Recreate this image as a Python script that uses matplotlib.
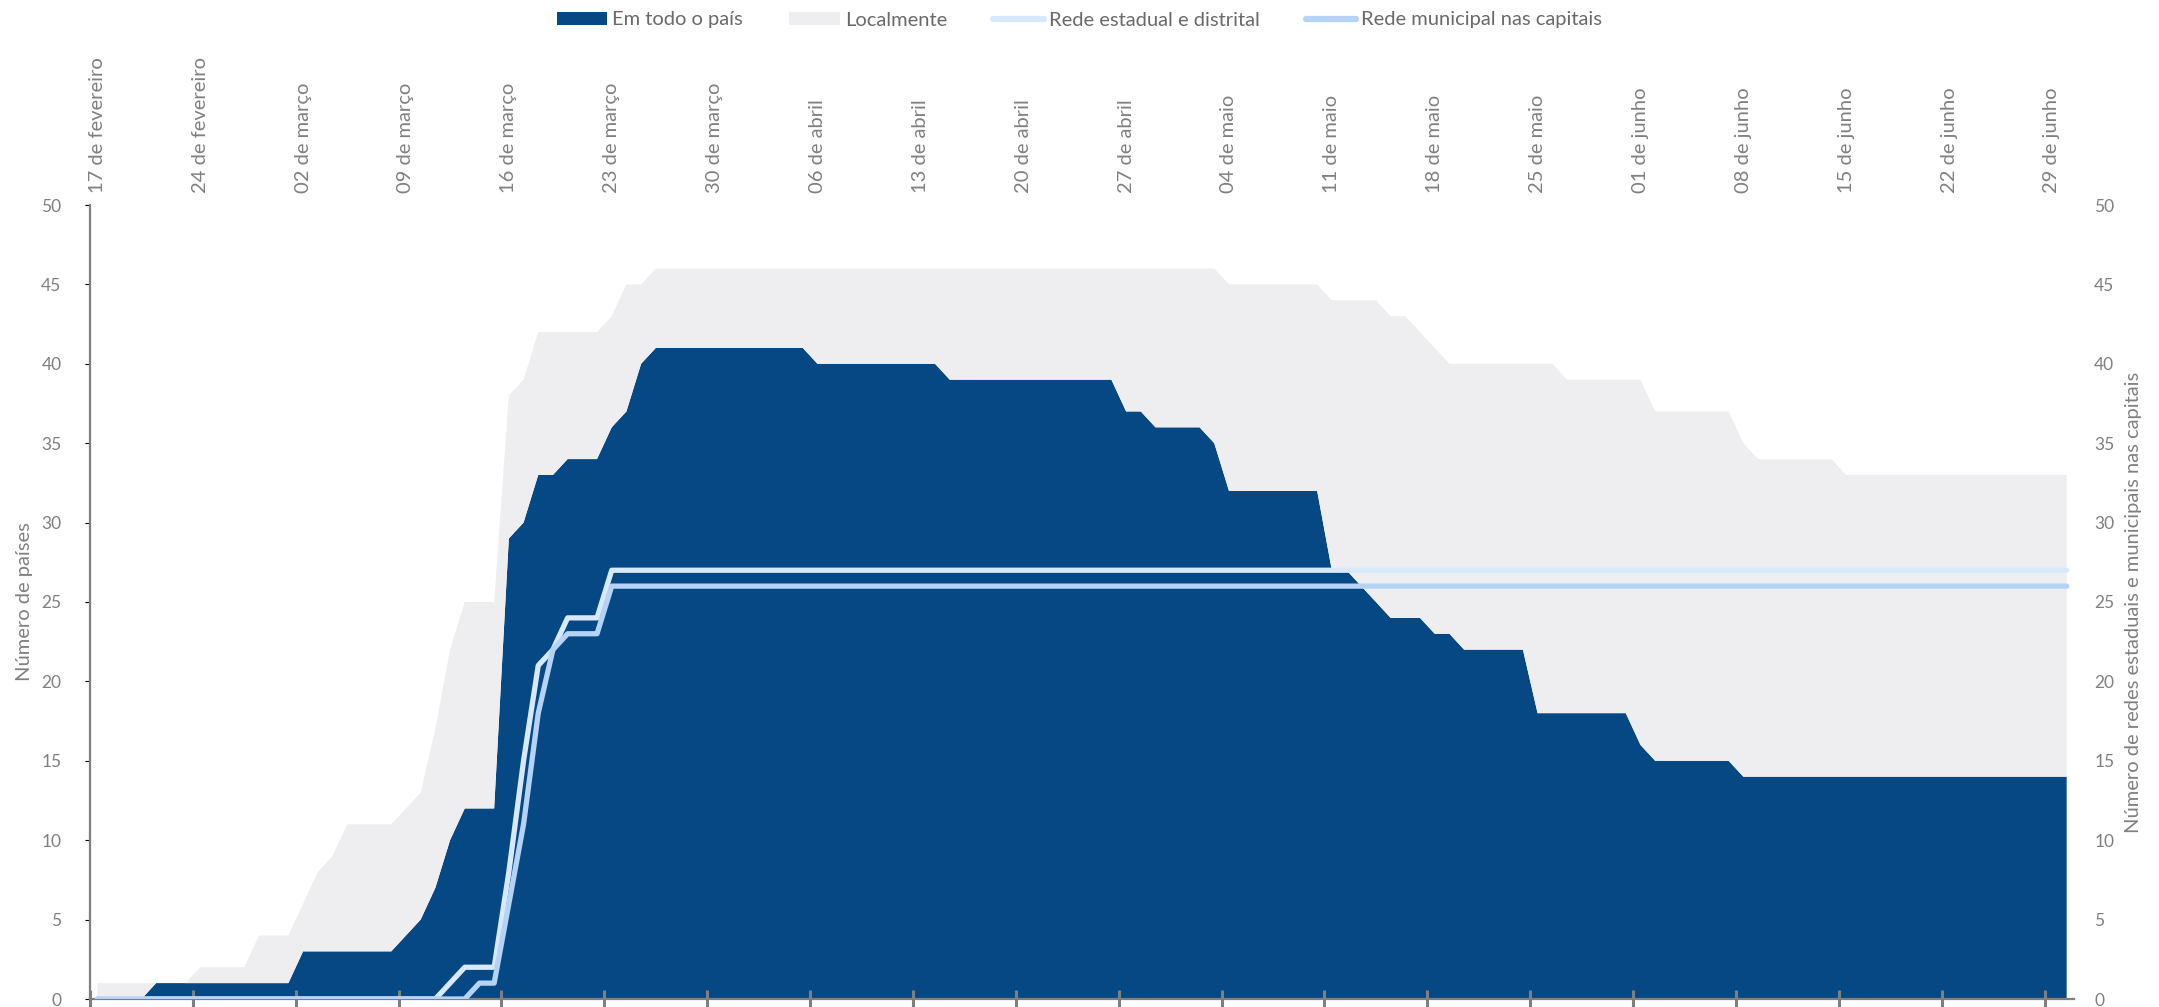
import numpy as np
import pandas as pd
import matplotlib
matplotlib.use('Agg')
import matplotlib.pyplot as plt
from matplotlib.patches import Patch
from matplotlib.lines import Line2D

plt.rcParams['font.family'] = ['Lato', 'DejaVu Sans']

# one value per day, 17 Feb - 30 Jun 2020
days = pd.date_range('2020-02-17', '2020-06-30', freq='D')

# Em todo o país (número de países)
em_todo_o_pais = (
    [0, 0, 0, 0, 1, 1, 1, 1, 1, 1, 1, 1, 1]                                   # fev 17-29
    + [1, 3, 3, 3, 3, 3, 3, 3, 4, 5, 7, 10, 12, 12, 12, 29, 30, 33, 33, 34,
       34, 34, 36, 37, 40, 41, 41, 41, 41, 41, 41]                           # março
    + [41, 41, 41, 41, 41, 40, 40, 40, 40, 40, 40, 40, 40, 40, 39, 39, 39, 39,
       39, 39, 39, 39, 39, 39, 39, 39, 37, 37, 36, 36]                       # abril
    + [36, 36, 35, 32, 32, 32, 32, 32, 32, 32, 27, 27, 26, 25, 24, 24, 24, 23,
       23, 22, 22, 22, 22, 22, 18, 18, 18, 18, 18, 18, 18]                   # maio
    + [16, 15, 15, 15, 15, 15, 15, 14, 14, 14, 14, 14, 14, 14, 14, 14, 14, 14,
       14, 14, 14, 14, 14, 14, 14, 14, 14, 14, 14, 14]                       # junho
)

# Localmente
localmente = (
    [1, 1, 1, 1, 0, 0, 0, 1, 1, 1, 1, 3, 3]
    + [3, 3, 5, 6, 8, 8, 8, 8, 8, 8, 10, 12, 13, 13, 13, 9, 9, 9, 9, 8,
       8, 8, 7, 8, 5, 5, 5, 5, 5, 5, 5]
    + [5, 5, 5, 5, 5, 6, 6, 6, 6, 6, 6, 6, 6, 6, 7, 7, 7, 7,
       7, 7, 7, 7, 7, 7, 7, 7, 9, 9, 10, 10]
    + [10, 10, 11, 13, 13, 13, 13, 13, 13, 13, 17, 17, 18, 19, 19, 19, 18, 18,
       17, 18, 18, 18, 18, 18, 22, 22, 21, 21, 21, 21, 21]
    + [23, 22, 22, 22, 22, 22, 22, 21, 20, 20, 20, 20, 20, 20, 19, 19, 19, 19,
       19, 19, 19, 19, 19, 19, 19, 19, 19, 19, 19, 19]
)

# Rede estadual e distrital
rede_estadual = (
    [0, 0, 0, 0, 0, 0, 0, 0, 0, 0, 0, 0, 0]
    + [0, 0, 0, 0, 0, 0, 0, 0, 0, 0, 0, 1, 2, 2, 2, 8, 15, 21, 22, 24,
       24, 24, 27, 27, 27, 27, 27, 27, 27, 27, 27]
    + [27, 27, 27, 27, 27, 27, 27, 27, 27, 27, 27, 27, 27, 27, 27, 27, 27, 27,
       27, 27, 27, 27, 27, 27, 27, 27, 27, 27, 27, 27]
    + [27, 27, 27, 27, 27, 27, 27, 27, 27, 27, 27, 27, 27, 27, 27, 27, 27, 27,
       27, 27, 27, 27, 27, 27, 27, 27, 27, 27, 27, 27, 27]
    + [27, 27, 27, 27, 27, 27, 27, 27, 27, 27, 27, 27, 27, 27, 27, 27, 27, 27,
       27, 27, 27, 27, 27, 27, 27, 27, 27, 27, 27, 27]
)

# Rede municipal nas capitais
rede_municipal = (
    [0, 0, 0, 0, 0, 0, 0, 0, 0, 0, 0, 0, 0]
    + [0, 0, 0, 0, 0, 0, 0, 0, 0, 0, 0, 0, 0, 1, 1, 6, 11, 18, 22, 23,
       23, 23, 26, 26, 26, 26, 26, 26, 26, 26, 26]
    + [26, 26, 26, 26, 26, 26, 26, 26, 26, 26, 26, 26, 26, 26, 26, 26, 26, 26,
       26, 26, 26, 26, 26, 26, 26, 26, 26, 26, 26, 26]
    + [26, 26, 26, 26, 26, 26, 26, 26, 26, 26, 26, 26, 26, 26, 26, 26, 26, 26,
       26, 26, 26, 26, 26, 26, 26, 26, 26, 26, 26, 26, 26]
    + [26, 26, 26, 26, 26, 26, 26, 26, 26, 26, 26, 26, 26, 26, 26, 26, 26, 26,
       26, 26, 26, 26, 26, 26, 26, 26, 26, 26, 26, 26]
)

tick_labels = ['17 de fevereiro', '24 de fevereiro', '02 de março', '09 de março',
               '16 de março', '23 de março', '30 de março', '06 de abril',
               '13 de abril', '20 de abril', '27 de abril', '04 de maio',
               '11 de maio', '18 de maio', '25 de maio', '01 de junho',
               '08 de junho', '15 de junho', '22 de junho', '29 de junho']

BLUE = '#054884'
GRAY = '#eeeef0'
C_EST = '#d7e9fb'
C_MUN = '#b5d2f7'
TXT = '#808080'

W, H = 2159, 1007
fig = plt.figure(figsize=(W / 100, H / 100), dpi=100)
ax = fig.add_axes([90 / W, 8 / H, (2074 - 90) / W, (999 - 205) / H])

ax.stackplot(days, em_todo_o_pais, localmente, colors=[BLUE, GRAY], lw=0)

half = pd.Timedelta(hours=12)
ax.set_xlim(days[0] - half, days[-1] + half)
ax.set_ylim(0, 50)

week_days = days[::7]
ax.set_xticks(week_days)
ax.set_xticklabels(tick_labels)
ax.set_xticks(week_days - half, minor=True)
ax.tick_params(axis='x', which='major', bottom=False, top=False, labelbottom=False,
               labeltop=True, labelrotation=90, labelsize=14.5, labelcolor=TXT, pad=5)
ax.tick_params(axis='x', which='minor', bottom=True, top=False, direction='inout',
               length=13, width=2.2, color='#7f7f7f')

ax.set_yticks(range(0, 51, 5))
ax.tick_params(axis='y', left=False, labelsize=12.5, labelcolor=TXT, pad=17)
ax.set_ylabel('Número de países', color=TXT, fontsize=14.5, labelpad=6)

for s in ['top', 'right']:
    ax.spines[s].set_visible(False)
for s in ['left', 'bottom']:
    ax.spines[s].set_color('#7f7f7f')
    ax.spines[s].set_linewidth(1.6)

# redes on the secondary axis
ax2 = ax.twinx()
ax2.plot(days, rede_estadual, color=C_EST, lw=3.8, solid_capstyle='round')
ax2.plot(days, rede_municipal, color=C_MUN, lw=3.8, solid_capstyle='round')
ax2.set_ylim(0, 50)
ax2.set_yticks(range(0, 51, 5))
ax2.tick_params(axis='y', right=False, labelsize=12.5, labelcolor=TXT, pad=11)
ax2.set_ylabel('Número de redes estaduais e municipais nas capitais', color=TXT,
               fontsize=14.5, labelpad=8)
for s in ax2.spines.values():
    s.set_visible(False)

handles = [Patch(facecolor=BLUE), Patch(facecolor=GRAY),
           Line2D([], [], color=C_EST, lw=4.5, solid_capstyle='round'),
           Line2D([], [], color=C_MUN, lw=4.5, solid_capstyle='round')]
labels = ['Em todo o país', 'Localmente', 'Rede estadual e distrital',
          'Rede municipal nas capitais']
leg = fig.legend(handles, labels, loc='center', bbox_to_anchor=(0.5, 1 - 20 / H),
                 ncol=4, frameon=False, fontsize=14.5, handlelength=2.5,
                 handleheight=0.65, handletextpad=0.25, columnspacing=2.3)
for t in leg.get_texts():
    t.set_color('#6a6a6a')

fig.savefig('out.png', dpi=100)
